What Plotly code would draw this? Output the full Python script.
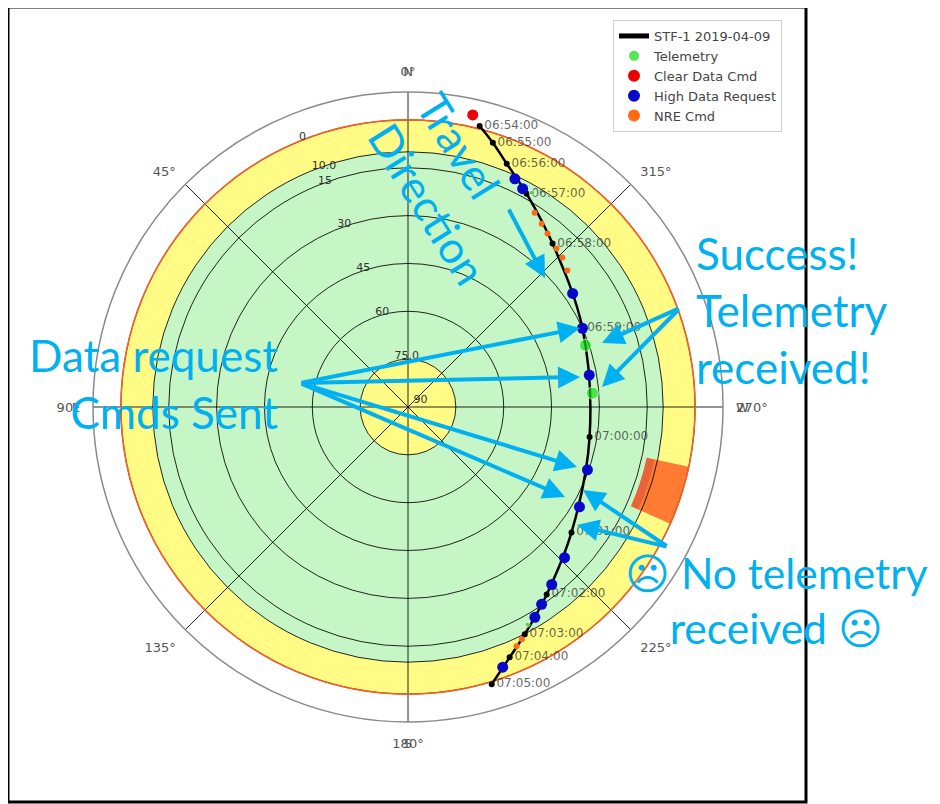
import plotly.graph_objects as go

# ---------------- data (azimuth deg, elevation deg) ----------------
track_time = ["06:54:00", "06:55:00", "06:56:00", "06:57:00", "06:58:00", "06:59:00",
              "07:00:00", "07:01:00", "07:02:00", "07:03:00", "07:04:00", "07:05:00"]
track_az = [345.7, 342.2, 337.9, 330.9, 318.5, 294.3, 260.6, 232.5, 216.5, 207.2, 202.1, 196.8]
track_el = [-0.9, 3.0, 7.7, 13.5, 21.6, 30.0, 32.3, 25.4, 16.9, 9.9, 5.3, -0.8]

tel_az = [330.0, 289.2, 274.3, 208.8]
tel_el = [12.4, 31.1, 32.0, 12.2]

clear_az = [347.5]
clear_el = [-3.8]

hdr_az = [334.9, 332.3, 304.6, 294.3, 280.0, 250.7, 239.8, 226.1, 219.0, 214.1, 211.1, 200.0]
hdr_el = [11.0, 12.7, 27.3, 30.0, 32.3, 30.4, 27.8, 21.9, 18.4, 15.3, 13.0, 3.2]

nre_az = [326.9, 323.9, 321.2, 316.9, 314.1, 310.6, 206.1, 204.4]
nre_el = [17.3, 18.9, 20.2, 21.9, 22.6, 24.2, 8.9, 7.6]

# elevation mask levels
horizon_el = 0
low_mask_el = 10
high_mask_el = 75
block_az_center = 252
block_az_width = 12
block_el_top = 13.5

radial_ticks_el = [90, 75, 60, 45, 30, 15, 10, 0]
radial_ticks_txt = ["90", "75.0", "60", "45", "30", "15", "10.0", "0"]
ang_ticks = [0, 45, 90, 135, 180, 225, 270, 315]
ang_txt = ["0°", "45°", "90°", "135°", "180°", "225°", "270°", "315°"]
card_ticks = [0, 90, 180, 270]
card_txt = ["N", "E", "S", "W"]

R_MAX = 98.75


def zen(el):
    return [90 - e for e in el]


OFF = 8            # page margin of the browser
W, H = 940 - OFF, 804 - OFF


def P(x, y):
    return (x - OFF) / W, 1 - (y - OFF) / H


fig = go.Figure()

# ---------- background fills (bottom polar) ----------
YELLOW = "#FFFB85"
GREEN = "#C6F6C6"
fig.add_trace(go.Barpolar(theta=[0], width=[360], base=[90 - low_mask_el], r=[low_mask_el - horizon_el],
                          marker=dict(color=YELLOW, line=dict(width=0)), subplot="polar",
                          showlegend=False, hoverinfo="skip"))
fig.add_trace(go.Barpolar(theta=[0], width=[360], base=[90 - high_mask_el], r=[high_mask_el - low_mask_el],
                          marker=dict(color=GREEN, line=dict(width=0)), subplot="polar",
                          showlegend=False, hoverinfo="skip"))
fig.add_trace(go.Barpolar(theta=[0], width=[360], base=[0], r=[90 - high_mask_el],
                          marker=dict(color=YELLOW, line=dict(width=0)), subplot="polar",
                          showlegend=False, hoverinfo="skip"))
fig.add_trace(go.Barpolar(theta=[block_az_center], width=[block_az_width], base=[90 - block_el_top],
                          r=[block_el_top - horizon_el],
                          marker=dict(color="#FF7A33", line=dict(width=0)), subplot="polar",
                          showlegend=False, hoverinfo="skip"))
fig.add_trace(go.Barpolar(theta=[block_az_center], width=[block_az_width], base=[90 - block_el_top],
                          r=[2.5],
                          marker=dict(color="rgba(215,80,60,0.55)", line=dict(width=0)), subplot="polar",
                          showlegend=False, hoverinfo="skip"))

# ---------- top polar: horizon ring, track and events ----------
fig.add_trace(go.Barpolar(theta=[0], width=[360], base=[90 - horizon_el - 0.25], r=[0.5],
                          marker=dict(color="#F0602A", line=dict(width=0)), subplot="polar2",
                          showlegend=False, hoverinfo="skip"))

fig.add_trace(go.Scatterpolar(theta=track_az, r=zen(track_el), mode="lines",
                              line=dict(color="black", width=2.5, shape="spline"),
                              name="STF-1 2019-04-09", subplot="polar2", legendrank=1))
fig.add_trace(go.Scatterpolar(theta=track_az, r=zen(track_el), mode="markers+text",
                              marker=dict(color="black", size=6), text=track_time,
                              textposition="middle right",
                              textfont=dict(family="DejaVu Sans", size=12, color="rgba(50,50,50,0.75)"),
                              showlegend=False, subplot="polar2"))
fig.add_trace(go.Scatterpolar(theta=nre_az, r=zen(nre_el), mode="markers",
                              marker=dict(color="#FF6A13", size=6),
                              name="NRE Cmd", subplot="polar2", legendrank=5))
fig.add_trace(go.Scatterpolar(theta=hdr_az, r=zen(hdr_el), mode="markers",
                              marker=dict(color="#0808C8", size=11),
                              name="High Data Request", subplot="polar2", legendrank=4))
fig.add_trace(go.Scatterpolar(theta=tel_az, r=zen(tel_el), mode="markers",
                              marker=dict(color="#10DD10", size=[5, 12, 12, 5]),
                              name="Telemetry", subplot="polar2", legendrank=2))
fig.add_trace(go.Scatterpolar(theta=clear_az, r=zen(clear_el), mode="markers",
                              marker=dict(color="#EE0000", size=11),
                              name="Clear Data Cmd", subplot="polar2", legendrank=3))

dom = dict(x=[(93 - OFF) / W, (723 - OFF) / W], y=[1 - (723 - OFF) / H, 1 - (91 - OFF) / H])
grid_c = "rgba(0,0,0,0.85)"

lx, ly = P(613, 20)
fig.update_layout(
    width=W, height=H,
    margin=dict(l=0, r=0, t=0, b=0),
    paper_bgcolor="white",
    font=dict(family="DejaVu Sans"),
    polar=dict(
        domain=dom, bgcolor="white",
        angularaxis=dict(rotation=90, direction="counterclockwise", tickmode="array",
                         tickvals=card_ticks, ticktext=card_txt, showgrid=False, showline=False,
                         ticks="outside", ticklen=10, tickcolor="rgba(0,0,0,0)",
                         tickfont=dict(size=13, color="#555")),
        radialaxis=dict(range=[0, R_MAX], visible=False),
    ),
    polar2=dict(
        domain=dom, bgcolor="rgba(0,0,0,0)",
        angularaxis=dict(rotation=90, direction="counterclockwise", tickmode="array",
                         tickvals=ang_ticks, ticktext=ang_txt, showgrid=True, gridcolor=grid_c,
                         gridwidth=1.2, showline=True, linecolor="#8a8a8a", linewidth=1.5,
                         ticks="outside", ticklen=10, tickcolor="rgba(0,0,0,0)",
                         tickfont=dict(size=13, color="#555")),
        radialaxis=dict(range=[0, R_MAX], tickmode="array", tickvals=zen(radial_ticks_el),
                        ticktext=[t + "<br> " for t in radial_ticks_txt], angle=113.5, showline=False,
                        ticks="", showgrid=True, gridcolor=grid_c, gridwidth=1.2, tickangle=113.5,
                        tickfont=dict(size=11, color="#333")),
    ),
    legend=dict(x=lx, y=ly, xanchor="left", yanchor="top",
                bgcolor="rgba(255,255,255,0.85)", bordercolor="#d0d0d0", borderwidth=1,
                font=dict(size=13, color="#444"), itemsizing="constant"),
    showlegend=True,
)

# frame around the figure
fx0, fy1 = P(8, 7)
fx1, fy0 = P(806, 802)
fig.add_shape(type="rect", xref="paper", yref="paper", x0=fx0, x1=fx1, y0=fy0, y1=fy1,
              line=dict(color="black", width=3), fillcolor="rgba(0,0,0,0)", layer="above")

BLUE = "#00B0F0"
TXT = dict(family="Lato", size=44, color=BLUE)


def note(text, px, py, size=44, **kw):
    x, y = P(px, py)
    fig.add_annotation(x=x, y=y, xref="paper", yref="paper", text=text, showarrow=False,
                       font=dict(TXT, size=size), **kw)


note("Travel<br>Direction", 452, 189, textangle=58, align="left", xanchor="center", yanchor="middle")
note("Success!<br>Telemetry<br>received!", 694, 310, align="left", xanchor="left", yanchor="middle")
note("Data request<br>Cmds Sent", 280, 383, align="right", xanchor="right", yanchor="middle")
note("☹ No telemetry<br>received ☹", 776, 600, size=42.5, align="center", xanchor="center", yanchor="middle")


def arrow(tail, tip):
    x, y = P(*tip)
    fig.add_annotation(x=x, y=y, xref="paper", yref="paper", text="", showarrow=True,
                       ax=tail[0] - tip[0], ay=tail[1] - tip[1], axref="pixel", ayref="pixel",
                       arrowhead=2, arrowsize=1.1, arrowwidth=4, arrowcolor=BLUE, standoff=0)


for tip in [(580, 328), (580, 377), (577, 467), (565, 497)]:
    arrow((300, 383), tip)
for tip in [(602, 343), (602, 387)]:
    arrow((680, 308), tip)
arrow((508, 208), (545, 278))
for tip in [(583, 490), (577, 525)]:
    arrow((668, 547), tip)

fig.write_html("out.html")
